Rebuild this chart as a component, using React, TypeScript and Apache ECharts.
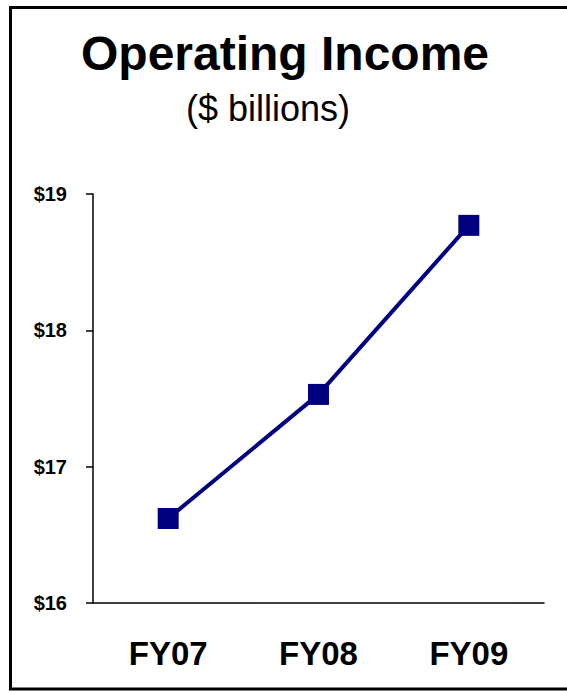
import React, { useEffect, useRef } from "react";
import * as echarts from "echarts";

const categories = ["FY07", "FY08", "FY09"];
const operatingIncome = [16.62, 17.53, 18.77];
const yTicks = [16, 17, 18, 19];
const titleText = "Operating Income";
const subtitleText = "($ billions)";

const FONT = "'Liberation Sans', Arial, sans-serif";

export default function App() {
  const ref = useRef<HTMLDivElement>(null);
  useEffect(() => {
    if (!ref.current) return;
    const chart = echarts.init(ref.current, null, { renderer: "svg" });
    chart.setOption({
      animation: false,
      backgroundColor: "#ffffff",
      title: [
        {
          text: titleText,
          left: 280,
          top: 24,
          textAlign: "center",
          textStyle: { fontFamily: FONT, fontWeight: "bold", fontSize: 48, color: "#000" },
        },
        {
          text: subtitleText,
          left: 263,
          top: 85,
          textAlign: "center",
          textStyle: { fontFamily: FONT, fontWeight: "normal", fontSize: 36, color: "#000" },
        },
      ],
      graphic: [
        {
          type: "rect",
          shape: { x: 10.5, y: 7.5, width: 600, height: 681.5 },
          style: { fill: "none", stroke: "#000", lineWidth: 3 },
          silent: true,
        },
      ],
      grid: { left: 93, right: 23, top: 194, bottom: 88, containLabel: false },
      xAxis: {
        type: "category",
        data: categories,
        boundaryGap: true,
        axisLine: { show: true, lineStyle: { color: "#000", width: 1.5 } },
        axisTick: { show: false },
        axisLabel: {
          fontFamily: FONT,
          fontWeight: "bold",
          fontSize: 33,
          color: "#000",
          margin: 34,
        },
        splitLine: { show: false },
      },
      yAxis: {
        type: "value",
        min: yTicks[0],
        max: yTicks[yTicks.length - 1],
        interval: 1,
        axisLine: { show: true, lineStyle: { color: "#000", width: 1.5 } },
        axisTick: { show: true, inside: false, length: 7, lineStyle: { color: "#000", width: 1.5 } },
        axisLabel: {
          fontFamily: FONT,
          fontWeight: "bold",
          fontSize: 20,
          color: "#000",
          margin: 26,
          formatter: (v: number) => "$" + v,
        },
        splitLine: { show: false },
      },
      series: [
        {
          type: "line",
          data: operatingIncome,
          symbol: "rect",
          symbolSize: 21,
          itemStyle: { color: "#000080" },
          lineStyle: { color: "#000080", width: 4 },
        },
      ],
    });
    return () => chart.dispose();
  }, []);
  return (
    <div
      ref={ref}
      style={{ position: "absolute", left: 0, top: 0, width: 567, height: 691 }}
    />
  );
}
